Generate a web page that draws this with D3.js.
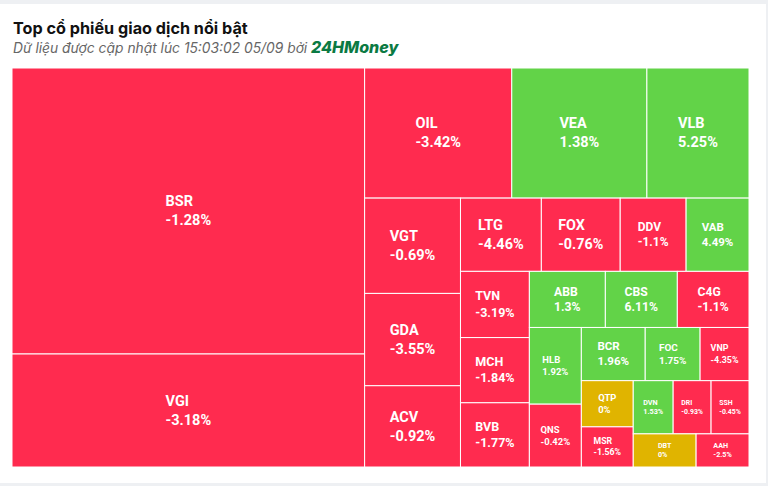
<!DOCTYPE html>
<html>
<head>
<meta charset="utf-8">
<script src="https://cdn.jsdelivr.net/npm/d3@7"></script>
<style>
  html, body { margin: 0; padding: 0; background: #eef0f3; }
  #card { position: absolute; left: 0; top: 4px; width: 766px; height: 479px; background: #fff; }
  svg { position: absolute; left: 0; top: 0; }
</style>
</head>
<body>
<div id="card"></div>
<svg id="chart" width="768" height="486"></svg>
<script>
// ---- data ----
const tickers = ["BSR","VGI","OIL","VEA","VLB","VGT","GDA","ACV","LTG","FOX","DDV","VAB",
  "TVN","MCH","BVB","ABB","CBS","C4G","HLB","QNS","BCR","FOC","VNP","QTP","MSR",
  "DVN","DRI","SSH","DBT","AAH"];
const volumes = [100672, 39776, 19110, 17550, 13260, 9120, 8832, 7776, 5913, 5767, 4818, 4599,
  4554, 4485, 4416, 4256, 4032, 4015, 3980, 3260, 3392, 2915, 2597, 2392, 2080,
  2120, 2014, 2014, 2079, 1749];
const changes = [-1.28, -3.18, -3.42, 1.38, 5.25, -0.69, -3.55, -0.92, -4.46, -0.76, -1.1, 4.49,
  -3.19, -1.84, -1.77, 1.3, 6.11, -1.1, 1.92, -0.42, 1.96, 1.75, -4.35, 0, -1.56,
  1.53, -0.93, -0.45, 0, -2.5];

const svg = d3.select("#chart");

// title
svg.append("text").attr("x", 13).attr("y", 34)
  .style("font-family", "Inter, 'Noto Sans', sans-serif").style("font-weight", 700)
  .style("font-size", "16.2px").attr("fill", "#111")
  .text("Top cổ phiếu giao dịch nổi bật");
const sub = svg.append("text").attr("x", 13).attr("y", 53)
  .style("font-family", "Inter, 'Noto Sans', sans-serif").style("font-style", "italic")
  .style("font-size", "13.8px").attr("fill", "#666");
sub.append("tspan").text("Dữ liệu được cập nhật lúc 15:03:02 05/09 bởi ");
sub.append("tspan").style("font-weight", 800).style("font-size", "16px").attr("fill", "#0b7a43").text("24HMoney");

// alternating-direction squarified tiling (low aspect ratio groups)
function altSquarify(parent, x0, y0, x1, y1) {
  const kids = parent.children;
  const pw = x1 - x0, ph = y1 - y0, area = pw * ph, tot = parent.value;
  let dir = 0, gw = pw, gh = ph, px = x0, py = y0;
  let elArr = [], total = 0, nW = 0, lW = 0, nH = 0, lH = 0, lR, nR;
  const ar = (a, b) => Math.max(a / b, b / a);
  const rects = [];
  function add(el) {
    const lp = elArr[elArr.length - 1];
    total += el;
    if (dir === 0) {
      lW = nW; lR = ar(lW, lp / lW);
      nW = total / gh; nR = ar(nW, lp / nW);
    } else {
      lH = nH; lR = ar(lp / lH, lH);
      nH = total / gw; nR = ar(lp / nH, nH);
    }
    elArr.push(el);
  }
  function calc(last) {
    let GW = lW, GH = lH, keep;
    if (last) { GW = nW; GH = nH; } else keep = elArr[elArr.length - 1];
    const end = elArr.length - 1;
    elArr.forEach((p, i) => {
      if (last || i < end) {
        let w, h;
        if (dir === 0) { w = GW; h = p / w; } else { h = GH; w = p / h; }
        rects.push({ x: px, y: py, w, h });
        if (dir === 0) py += h; else px += w;
      }
    });
    nW = 0; lW = 0; elArr = []; total = 0;
    if (dir === 0) gw -= GW; else gh -= GH;
    py = y0 + (ph - gh); px = x0 + (pw - gw);
    dir = 1 - dir;
    if (!last) add(keep);
  }
  kids.forEach((c, i) => {
    add(area * c.value / tot);
    if (nR > lR) calc(false);
    if (i === kids.length - 1) calc(true);
  });
  kids.forEach((c, i) => {
    const r = rects[i];
    c.x0 = r.x; c.y0 = r.y; c.x1 = r.x + r.w; c.y1 = r.y + r.h;
  });
}

const X0 = 12, Y0 = 68, W = 737, H = 399;
const data = tickers.map((t, i) => ({ name: t, value: volumes[i], change: changes[i] }));
const root = d3.hierarchy({ children: data }).sum(d => d.value || 0);
d3.treemap().size([W, H]).tile(altSquarify).round(false)(root);

const color = c => c > 0 ? "#62d348" : (c < 0 ? "#ff2b4f" : "#e0b400");

const g = svg.append("g").attr("transform", `translate(${X0},${Y0})`);
const cell = g.selectAll("g.cell").data(root.leaves()).join("g").attr("class", "cell");
cell.append("rect")
  .attr("x", d => d.x0).attr("y", d => d.y0)
  .attr("width", d => d.x1 - d.x0).attr("height", d => d.y1 - d.y0)
  .attr("fill", d => color(d.data.change))
  .attr("stroke", "#fff").attr("stroke-width", 1);

cell.each(function(d) {
  const w = d.x1 - d.x0, h = d.y1 - d.y0;
  const f = Math.min(14.5, 0.182 * w, 0.217 * h);
  const cx = (d.x0 + d.x1) / 2, cy = (d.y0 + d.y1) / 2;
  const t = d3.select(this).append("text")
    .style("font-family", "Roboto, sans-serif").style("font-weight", 700)
    .style("font-size", f + "px").attr("fill", "#fff");
  const a = t.append("tspan").text(d.data.name).attr("y", cy - 0.32 * f);
  const b = t.append("tspan").text(d.data.change + "%").attr("y", cy + 0.98 * f);
  const mw = Math.max(a.node().getComputedTextLength(), b.node().getComputedTextLength());
  a.attr("x", cx - mw / 2); b.attr("x", cx - mw / 2);
});
</script>
</body>
</html>
